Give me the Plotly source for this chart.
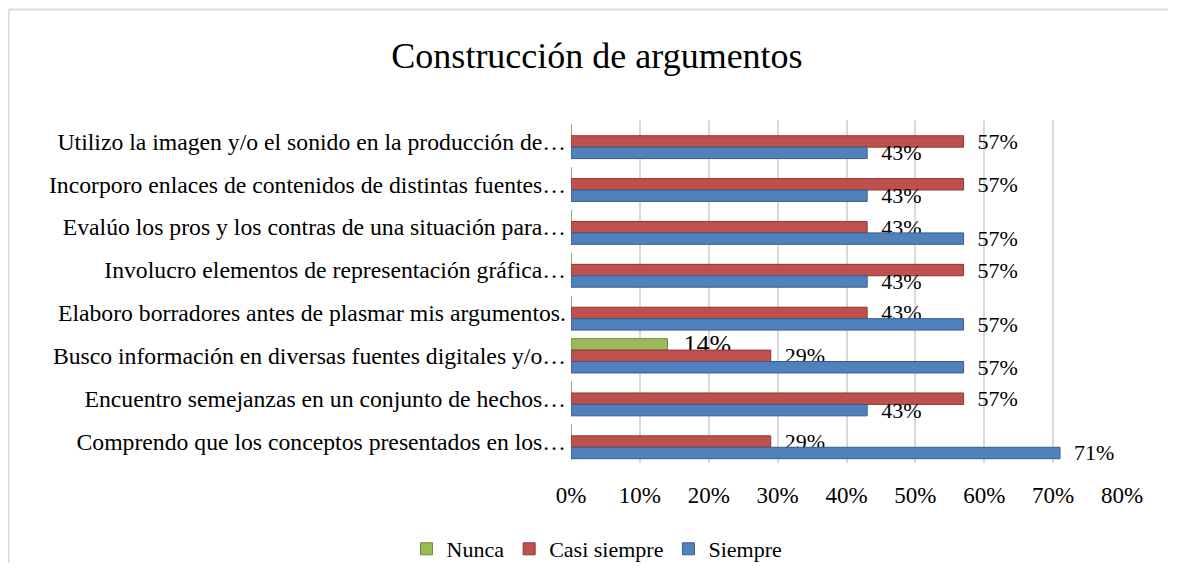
import plotly.graph_objects as go

categories = [
    "Utilizo la imagen y/o el sonido en la producción de…",
    "Incorporo enlaces de contenidos de distintas fuentes…",
    "Evalúo los pros y los contras de una situación para…",
    "Involucro elementos de representación gráfica…",
    "Elaboro borradores antes de plasmar mis argumentos.",
    "Busco información en diversas fuentes digitales y/o…",
    "Encuentro semejanzas en un conjunto de hechos…",
    "Comprendo que los conceptos presentados en los…",
]
nunca = [0, 0, 0, 0, 0, 0.14, 0, 0]
casi_siempre = [0.57, 0.57, 0.43, 0.57, 0.43, 0.29, 0.57, 0.29]
siempre = [0.43, 0.43, 0.57, 0.43, 0.57, 0.57, 0.43, 0.71]
x_ticks = [0, 0.1, 0.2, 0.3, 0.4, 0.5, 0.6, 0.7, 0.8]
x_tick_labels = ["0%", "10%", "20%", "30%", "40%", "50%", "60%", "70%", "80%"]

FONT = "Liberation Serif, Times New Roman, serif"

def labels(vals):
    return ["  " + f"{round(v*100)}%" if v > 0 else "" for v in vals]

series = [
    ("Nunca", nunca, "#9BBB59", "#71893F", 26),
    ("Casi siempre", casi_siempre, "#C0504D", "#8C3836", 22),
    ("Siempre", siempre, "#4F81BD", "#385D8A", 22),
]

fig = go.Figure()
for name, vals, color, line, fs in series:
    fig.add_trace(go.Bar(
        y=categories, x=vals, name=name, orientation="h",
        marker=dict(color=color, line=dict(color=line, width=1)),
        text=labels(vals), textposition="outside", cliponaxis=False,
        constraintext="none",
        textfont=dict(family=FONT, size=fs, color="#000000"),
    ))

# page has an 8px body margin; figure coordinates = page coordinates - 8
W, H = 1160, 555
L, R, T, B = 563, 46, 112, 100
pw, ph = W - L - R, H - T - B

border_x = (0.5 - L) / pw
border_y = 1 + (T - 1.5) / ph

fig.update_layout(
    width=W, height=H,
    margin=dict(l=L, r=R, t=T, b=B, autoexpand=False),
    paper_bgcolor="white", plot_bgcolor="white",
    barmode="group", bargap=0.2, bargroupgap=0,
    font=dict(family=FONT, size=22, color="#000000"),
    title=dict(text="Construcción de argumentos", x=589 / W, xref="container",
               xanchor="center", y=1 - 47 / H, yref="container", yanchor="middle",
               font=dict(family=FONT, size=36, color="#000000")),
    legend=dict(orientation="h", x=(589 - L) / pw, xanchor="center",
                y=1 - (541 - T) / ph, yanchor="middle",
                font=dict(family=FONT, size=22, color="#000000"),
                itemwidth=30, tracegroupgap=0),
    showlegend=True,
    shapes=[
        dict(type="line", xref="paper", yref="paper",
             x0=border_x, x1=(W - L) / pw, y0=border_y, y1=border_y,
             line=dict(color="#D9D9D9", width=2), layer="below"),
        dict(type="line", xref="paper", yref="paper",
             x0=border_x, x1=border_x, y0=border_y, y1=-B / ph,
             line=dict(color="#D9D9D9", width=2), layer="below"),
    ],
)
fig.update_xaxes(range=[0, 0.8], tickvals=x_ticks, ticktext=x_tick_labels,
                 showgrid=True, gridcolor="#D9D9D9", gridwidth=2,
                 zeroline=False, showline=False, ticklabelstandoff=16,
                 tickfont=dict(family=FONT, size=23, color="#000000"))
fig.update_yaxes(autorange="reversed", showgrid=False, showline=False,
                 ticklabelstandoff=4,
                 tickfont=dict(family=FONT, size=23.7, color="#000000"))

fig.write_html("out.html")
